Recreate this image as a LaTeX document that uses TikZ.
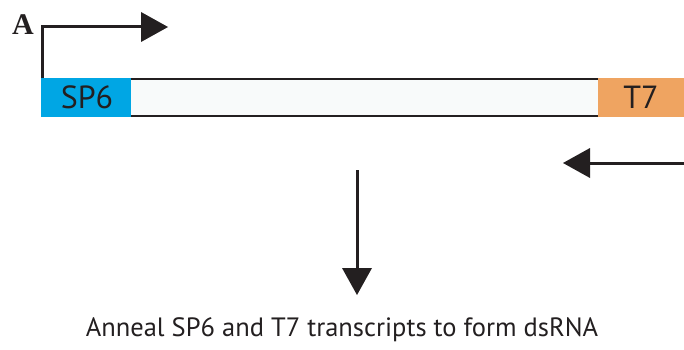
\documentclass[tikz,border=0pt]{standalone}
\usepackage{fontspec}
\setmainfont{Liberation Serif}
\newfontfamily\labfont{PT Sans}
\definecolor{sp6}{HTML}{00A6E4}
\definecolor{t7}{HTML}{EFA461}
\definecolor{ink}{HTML}{231F20}
\definecolor{mid}{HTML}{F8FAFA}
\begin{document}
\begin{tikzpicture}[x=1pt,y=-1pt,
  bar/.style={draw=none,inner sep=0pt,outer sep=0pt},
  boxlabel/.style={font=\labfont\fontsize{32}{34}\selectfont,text=ink},
  arr/.style={draw=ink,line width=3pt},
  head/.style={fill=ink,draw=none}]
\useasboundingbox (0,0) rectangle (684,350);
% bars
\node[bar,fill=sp6,minimum width=90pt,minimum height=39pt,anchor=north west] (sp6) at (41,78) {};
\node[boxlabel] at ([xshift=1pt]sp6.center) {SP6};
\node[bar,fill=t7,minimum width=86pt,minimum height=39pt,anchor=north west] (t7) at (598,78) {};
\node[boxlabel] at ([xshift=0pt]t7.center) {T7};
\node[bar,fill=mid,minimum width=467pt,minimum height=37pt,anchor=north west] (mid) at (131,79) {};
\draw[ink,line width=2.6pt] (mid.north west) -- (mid.north east);
\draw[ink,line width=2.6pt] (mid.south west) -- (mid.south east);
% label A
\node[font=\bfseries\fontsize{30}{32}\selectfont,text=ink,anchor=center] (A) at (23,25) {A};
% promoter arrow
\coordinate (p0) at (42,78);
\coordinate (p1) at (42,27);
\coordinate (p2) at (142,27);
\draw[arr,line cap=butt] (p0) -- (p1) -- (p2);
\fill[head] (141,12) -- (168,27) -- (141,42) -- cycle;
% reverse arrow
\coordinate (r0) at (684,163);
\coordinate (r1) at (588,163);
\draw[arr] (r0) -- (r1);
\fill[head] (590,148) -- (563,163) -- (590,178) -- cycle;
% down arrow
\node[font=\labfont\fontsize{26.5}{28}\selectfont,text=ink] (txt) at (342,330) {Anneal SP6 and T7 transcripts to form dsRNA};
\coordinate (d0) at (357,170);
\coordinate (d1) at (357,270);
\draw[arr] (d0) -- (d1);
\fill[head] (342,268) -- (357,295) -- (372,268) -- cycle;
\end{tikzpicture}
\end{document}
